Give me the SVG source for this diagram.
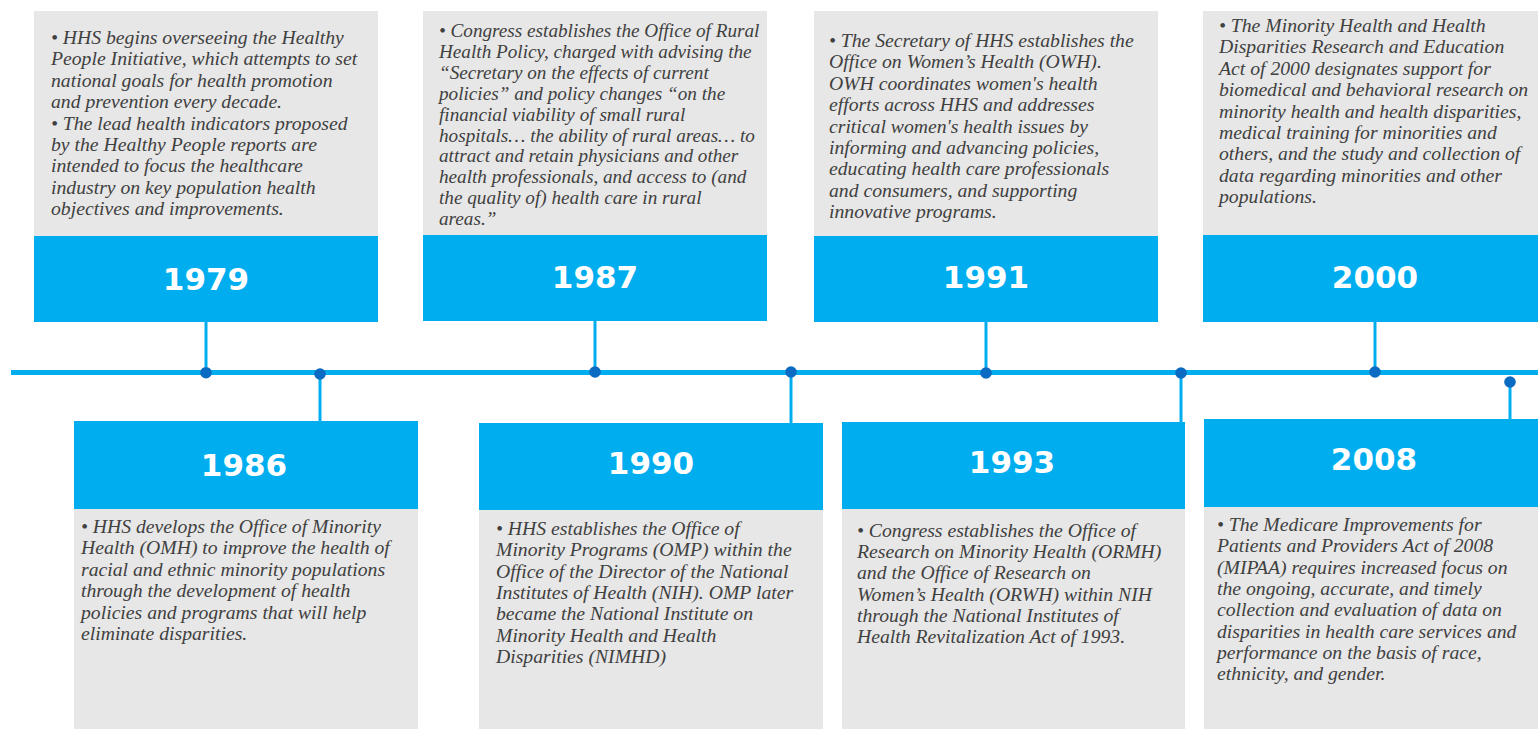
<svg xmlns="http://www.w3.org/2000/svg" width="1538" height="729" viewBox="0 0 1538 729">
<style>
.card{fill:#E7E7E7}
.band{fill:#00AEEF}
.year{font-family:"DejaVu Sans",Verdana,sans-serif;font-weight:bold;font-size:31px;fill:#FFFFFF;text-anchor:middle}
.desc{font-family:"Liberation Serif","Times New Roman",serif;font-style:italic;font-size:19.7px;fill:#404040}
.desc.tight{font-size:19.2px}
.axis{stroke:#00AEEF;stroke-width:5;fill:none}
.stem{stroke:#00AEEF;stroke-width:3;fill:none}
.dot{fill:#0B6BC2}
</style>
<rect width="1538" height="729" fill="#FFFFFF"/>
<g id="connectors">
<line class="axis" x1="11" y1="372.5" x2="1538" y2="372.5"/>
<line class="stem" x1="206" y1="322" x2="206" y2="373"/>
<line class="stem" x1="320" y1="374" x2="320" y2="421"/>
<line class="stem" x1="595" y1="321" x2="595" y2="372"/>
<line class="stem" x1="791" y1="372" x2="791" y2="423"/>
<line class="stem" x1="986" y1="322" x2="986" y2="373"/>
<line class="stem" x1="1181" y1="373" x2="1181" y2="422"/>
<line class="stem" x1="1375" y1="322" x2="1375" y2="372"/>
<line class="stem" x1="1510" y1="382" x2="1510" y2="419"/>
<circle class="dot" cx="206" cy="372.7" r="5.8"/>
<circle class="dot" cx="320" cy="374" r="5.8"/>
<circle class="dot" cx="595" cy="372" r="5.8"/>
<circle class="dot" cx="791" cy="372" r="5.8"/>
<circle class="dot" cx="986" cy="373" r="5.8"/>
<circle class="dot" cx="1181" cy="373" r="5.8"/>
<circle class="dot" cx="1375" cy="372" r="5.8"/>
<circle class="dot" cx="1510" cy="382" r="5.8"/>
</g>
<g id="n1979">
<rect class="card" x="34" y="11" width="344" height="225"/>
<rect class="band" x="34" y="236" width="344" height="86"/>
<text class="year" x="206" y="290">1979</text>
<text class="desc">
<tspan x="51" y="44">• HHS begins overseeing the Healthy</tspan>
<tspan x="51" y="65.4">People Initiative, which attempts to set</tspan>
<tspan x="51" y="86.8">national goals for health promotion</tspan>
<tspan x="51" y="108.2">and prevention every decade.</tspan>
<tspan x="51" y="129.6">• The lead health indicators proposed</tspan>
<tspan x="51" y="151">by the Healthy People reports are</tspan>
<tspan x="51" y="172.4">intended to focus the healthcare</tspan>
<tspan x="51" y="193.8">industry on key population health</tspan>
<tspan x="51" y="215.2">objectives and improvements.</tspan>
</text>
</g>
<g id="n1987">
<rect class="card" x="423" y="11" width="344" height="224"/>
<rect class="band" x="423" y="235" width="344" height="86"/>
<text class="year" x="595" y="288">1987</text>
<text class="desc tight">
<tspan x="439" y="37">• Congress establishes the Office of Rural</tspan>
<tspan x="439" y="57.9">Health Policy, charged with advising the</tspan>
<tspan x="439" y="78.8">“Secretary on the effects of current</tspan>
<tspan x="439" y="99.7">policies” and policy changes “on the</tspan>
<tspan x="439" y="120.6">financial viability of small rural</tspan>
<tspan x="439" y="141.5">hospitals… the ability of rural areas… to</tspan>
<tspan x="439" y="162.4">attract and retain physicians and other</tspan>
<tspan x="439" y="183.3">health professionals, and access to (and</tspan>
<tspan x="439" y="204.2">the quality of) health care in rural</tspan>
<tspan x="439" y="225.1">areas.”</tspan>
</text>
</g>
<g id="n1991">
<rect class="card" x="814" y="11" width="344" height="225"/>
<rect class="band" x="814" y="236" width="344" height="86"/>
<text class="year" x="986" y="288">1991</text>
<text class="desc">
<tspan x="829" y="47">• The Secretary of HHS establishes the</tspan>
<tspan x="829" y="68.4">Office on Women’s Health (OWH).</tspan>
<tspan x="829" y="89.8">OWH coordinates women's health</tspan>
<tspan x="829" y="111.2">efforts across HHS and addresses</tspan>
<tspan x="829" y="132.6">critical women's health issues by</tspan>
<tspan x="829" y="154">informing and advancing policies,</tspan>
<tspan x="829" y="175.4">educating health care professionals</tspan>
<tspan x="829" y="196.8">and consumers, and supporting</tspan>
<tspan x="829" y="218.2">innovative programs.</tspan>
</text>
</g>
<g id="n2000">
<rect class="card" x="1203" y="11" width="335" height="224"/>
<rect class="band" x="1203" y="235" width="335" height="87"/>
<text class="year" x="1375" y="288">2000</text>
<text class="desc">
<tspan x="1219" y="32">•  The Minority Health and Health</tspan>
<tspan x="1219" y="53.4">Disparities Research and Education</tspan>
<tspan x="1219" y="74.8">Act of 2000 designates support for</tspan>
<tspan x="1219" y="96.2">biomedical and behavioral research on</tspan>
<tspan x="1219" y="117.6">minority health and health disparities,</tspan>
<tspan x="1219" y="139">medical training for minorities and</tspan>
<tspan x="1219" y="160.4">others, and the study and collection of</tspan>
<tspan x="1219" y="181.8">data regarding minorities and other</tspan>
<tspan x="1219" y="203.2">populations.</tspan>
</text>
</g>
<g id="n1986">
<rect class="band" x="74" y="421" width="344" height="88"/>
<rect class="card" x="74" y="509" width="344" height="220"/>
<text class="year" x="244" y="476">1986</text>
<text class="desc">
<tspan x="81" y="533">• HHS develops the Office of Minority</tspan>
<tspan x="81" y="554.4">Health (OMH) to improve the health of</tspan>
<tspan x="81" y="575.8">racial and ethnic minority populations</tspan>
<tspan x="81" y="597.2">through the development of health</tspan>
<tspan x="81" y="618.6">policies and programs that will help</tspan>
<tspan x="81" y="640">eliminate disparities.</tspan>
</text>
</g>
<g id="n1990">
<rect class="band" x="479" y="423" width="344" height="87"/>
<rect class="card" x="479" y="510" width="344" height="219"/>
<text class="year" x="651" y="474">1990</text>
<text class="desc">
<tspan x="496" y="535">• HHS establishes the Office of</tspan>
<tspan x="496" y="556.3">Minority Programs (OMP) within the</tspan>
<tspan x="496" y="577.6">Office of the Director of the National</tspan>
<tspan x="496" y="598.9">Institutes of Health (NIH). OMP later</tspan>
<tspan x="496" y="620.2">became the National Institute on</tspan>
<tspan x="496" y="641.5">Minority Health and Health</tspan>
<tspan x="496" y="662.8">Disparities (NIMHD)</tspan>
</text>
</g>
<g id="n1993">
<rect class="band" x="842" y="422" width="343" height="87"/>
<rect class="card" x="842" y="509" width="343" height="220"/>
<text class="year" x="1012" y="473">1993</text>
<text class="desc">
<tspan x="857" y="537">• Congress establishes the Office of</tspan>
<tspan x="857" y="558.2">Research on Minority Health (ORMH)</tspan>
<tspan x="857" y="579.4">and the Office of Research on</tspan>
<tspan x="857" y="600.6">Women’s Health (ORWH) within NIH</tspan>
<tspan x="857" y="621.8">through the National Institutes of</tspan>
<tspan x="857" y="643">Health Revitalization Act of 1993.</tspan>
</text>
</g>
<g id="n2008">
<rect class="band" x="1204" y="419" width="334" height="88"/>
<rect class="card" x="1204" y="507" width="334" height="222"/>
<text class="year" x="1374" y="470">2008</text>
<text class="desc">
<tspan x="1217" y="531">•  The Medicare Improvements for</tspan>
<tspan x="1217" y="552.3">Patients and Providers Act of 2008</tspan>
<tspan x="1217" y="573.6">(MIPAA) requires increased focus on</tspan>
<tspan x="1217" y="594.9">the ongoing, accurate, and timely</tspan>
<tspan x="1217" y="616.2">collection and evaluation of data on</tspan>
<tspan x="1217" y="637.5">disparities in health care services and</tspan>
<tspan x="1217" y="658.8">performance on the basis of race,</tspan>
<tspan x="1217" y="680.1">ethnicity, and gender.</tspan>
</text>
</g>
</svg>
